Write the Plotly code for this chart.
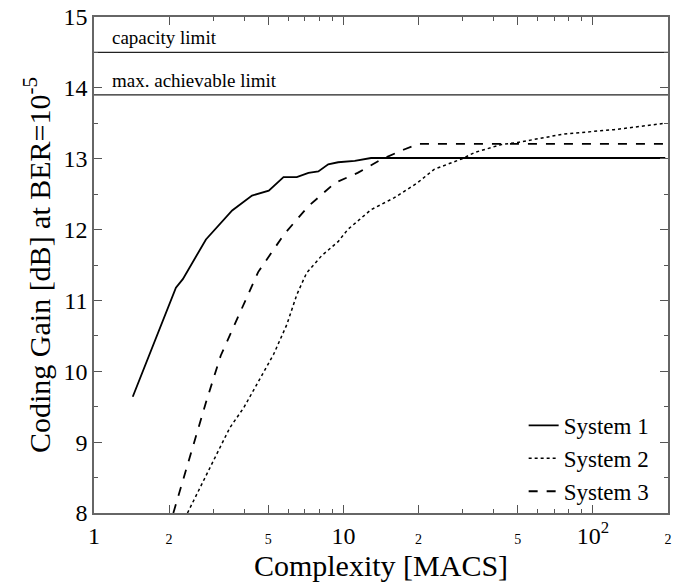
import plotly.graph_objects as go
import numpy as np

# System 1 (solid)
s1_x = [1.43, 2.13, 2.27, 2.81, 3.58, 4.3, 5.02, 5.75, 6.5, 7.24, 7.93, 8.69, 9.52, 11.1, 12.9, 20, 50, 100, 195]
s1_y = [9.64, 11.18, 11.30, 11.86, 12.27, 12.48, 12.55, 12.74, 12.74, 12.80, 12.82, 12.92, 12.95, 12.97, 13.01, 13.01, 13.01, 13.01, 13.01]
# System 2 (dotted)
s2_x = [2.37, 2.89, 3.5, 3.99, 4.58, 5.25, 5.93, 6.5, 7.12, 8.17, 9.52, 10.4, 12.9, 16.0, 19.8, 23.1, 29.9, 33.7, 43, 50, 76.9, 121.6, 195]
s2_y = [8.0, 8.62, 9.2, 9.49, 9.86, 10.24, 10.66, 11.08, 11.39, 11.63, 11.83, 12.0, 12.28, 12.45, 12.66, 12.85, 13.0, 13.09, 13.2, 13.23, 13.35, 13.41, 13.5]
# System 3 (dashed)
s3_x = [2.08, 2.45, 2.81, 3.22, 3.85, 4.55, 5.8, 7.24, 9.25, 11.4, 14.2, 17.5, 20.1, 50, 100, 195]
s3_y = [8.0, 8.86, 9.56, 10.22, 10.84, 11.4, 11.94, 12.33, 12.66, 12.80, 12.99, 13.13, 13.21, 13.21, 13.21, 13.21]

limit_names = ["capacity limit", "max. achievable limit"]
limit_vals = [14.5, 13.9]
x_min, x_max = 1, 200

x_tickvals = [1, 2, 5, 10, 20, 50, 100, 200]
x_ticktext = ["1", "2", "5", "10", "2", "5", "10<sup>2</sup>", "2"]
x_big = [True, False, False, True, False, False, True, False]
y_tickvals = [8, 9, 10, 11, 12, 13, 14, 15]

FONT = "Liberation Serif"

fig = go.Figure()

for name, v in zip(limit_names, limit_vals):
    fig.add_trace(go.Scatter(x=[x_min, x_max], y=[v, v], mode="lines",
                             line=dict(color="#222", width=1.3), showlegend=False,
                             hoverinfo="skip"))
    fig.add_annotation(x=np.log10(1.16), y=v, xref="x", yref="y", text=name,
                       showarrow=False, xanchor="left", yanchor="bottom", yshift=2,
                       font=dict(family=FONT, size=19, color="black"))

fig.add_trace(go.Scatter(x=s1_x, y=s1_y, mode="lines", name="System 1",
                         line=dict(color="black", width=1.8, dash="solid")))
fig.add_trace(go.Scatter(x=s2_x, y=s2_y, mode="lines", name="System 2",
                         line=dict(color="black", width=1.5, dash="dot")))
fig.add_trace(go.Scatter(x=s3_x, y=s3_y, mode="lines", name="System 3",
                         line=dict(color="black", width=1.8, dash="dash")))

ticktext = [t if big else "<span style='font-size:14px'>%s</span>" % t
            for t, big in zip(x_ticktext, x_big)]

minor_x = []
for d in [1, 10, 100]:
    for m in range(2, 10):
        if d * m <= x_max:
            minor_x.append(d * m)
minor_y = [8.5, 9.5, 10.5, 11.5, 12.5, 13.5, 14.5]

fig.update_layout(
    width=675, height=584,
    margin=dict(l=94, r=3, t=17, b=71),
    paper_bgcolor="white", plot_bgcolor="white",
    font=dict(family=FONT, size=22, color="black"),
    legend=dict(x=0.975, y=0.0, xanchor="right", yanchor="bottom",
                bgcolor="rgba(0,0,0,0)", font=dict(family=FONT, size=23),
                tracegroupgap=0),
    xaxis=dict(type="log", range=[0, np.log10(x_max)],
               tickmode="array", tickvals=x_tickvals, ticktext=ticktext,
               ticks="inside", ticklen=8, tickwidth=1, tickcolor="#555",
               showline=True, linecolor="#666", linewidth=1.5, mirror="ticks",
               showgrid=False, zeroline=False,
               minor=dict(tickvals=minor_x, ticks="inside", ticklen=4,
                          tickcolor="#555", showgrid=False),
               tickfont=dict(family=FONT, size=24),
               title=dict(text="Complexity [MACS]", font=dict(family=FONT, size=30),
                          standoff=6)),
    yaxis=dict(range=[8, 15], tickmode="array", tickvals=y_tickvals,
               ticks="inside", ticklen=8, tickwidth=1, tickcolor="#555",
               showline=True, linecolor="#666", linewidth=1.5, mirror="ticks",
               showgrid=False, zeroline=False,
               minor=dict(tickvals=minor_y, ticks="inside", ticklen=4,
                          tickcolor="#555", showgrid=False),
               tickfont=dict(family=FONT, size=24),
               title=dict(text="Coding Gain [dB] at BER=10<sup>-5</sup>",
                          font=dict(family=FONT, size=30), standoff=4)),
)

fig.write_html("out.html")
